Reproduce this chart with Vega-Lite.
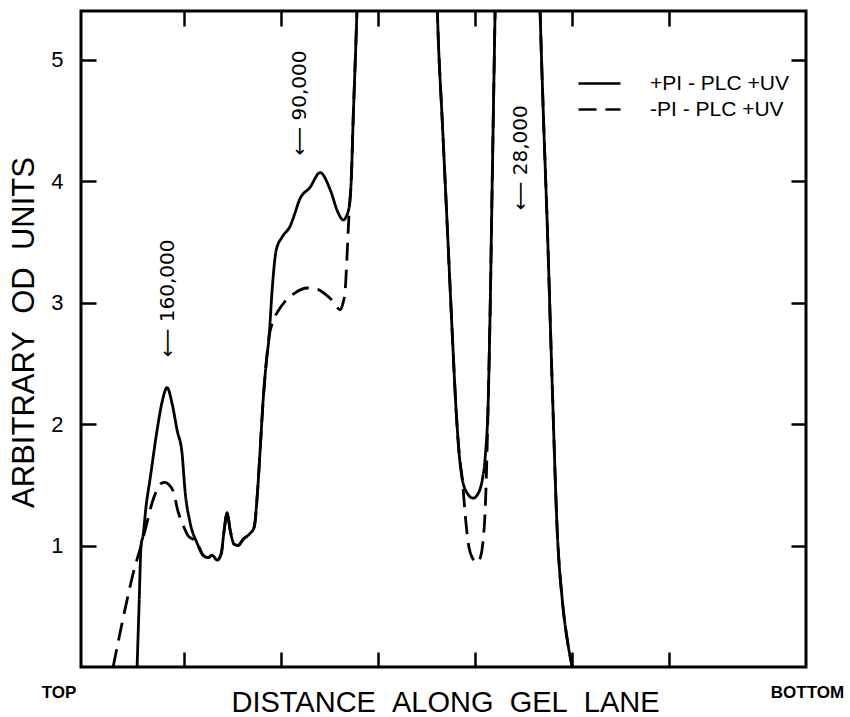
{
  "$schema": "https://vega.github.io/schema/vega-lite/v6.json",
  "width": 725,
  "height": 656,
  "autosize": {"type": "none"},
  "padding": {"left": 81, "top": 11, "right": 44, "bottom": 50},
  "background": "white",
  "config": {
    "view": {"stroke": "black", "strokeWidth": 3},
    "font": "Liberation Sans"
  },
  "datasets": {
    "curves": [
      {"series": "+PI - PLC +UV", "x": 0.518, "y": 0},
      {"series": "+PI - PLC +UV", "x": 0.538, "y": 0.5},
      {"series": "+PI - PLC +UV", "x": 0.559, "y": 1.0},
      {"series": "+PI - PLC +UV", "x": 0.579, "y": 1.08},
      {"series": "+PI - PLC +UV", "x": 0.610, "y": 1.32},
      {"series": "+PI - PLC +UV", "x": 0.652, "y": 1.55},
      {"series": "+PI - PLC +UV", "x": 0.724, "y": 1.95},
      {"series": "+PI - PLC +UV", "x": 0.775, "y": 2.18},
      {"series": "+PI - PLC +UV", "x": 0.827, "y": 2.30},
      {"series": "+PI - PLC +UV", "x": 0.878, "y": 2.17},
      {"series": "+PI - PLC +UV", "x": 0.930, "y": 1.95},
      {"series": "+PI - PLC +UV", "x": 0.981, "y": 1.76},
      {"series": "+PI - PLC +UV", "x": 1.012, "y": 1.45},
      {"series": "+PI - PLC +UV", "x": 1.064, "y": 1.19},
      {"series": "+PI - PLC +UV", "x": 1.136, "y": 1.02},
      {"series": "+PI - PLC +UV", "x": 1.198, "y": 0.92},
      {"series": "+PI - PLC +UV", "x": 1.249, "y": 0.90},
      {"series": "+PI - PLC +UV", "x": 1.291, "y": 0.92},
      {"series": "+PI - PLC +UV", "x": 1.342, "y": 0.88},
      {"series": "+PI - PLC +UV", "x": 1.384, "y": 0.93},
      {"series": "+PI - PLC +UV", "x": 1.414, "y": 1.12},
      {"series": "+PI - PLC +UV", "x": 1.445, "y": 1.27},
      {"series": "+PI - PLC +UV", "x": 1.476, "y": 1.13},
      {"series": "+PI - PLC +UV", "x": 1.518, "y": 1.01},
      {"series": "+PI - PLC +UV", "x": 1.559, "y": 1.00},
      {"series": "+PI - PLC +UV", "x": 1.610, "y": 1.05},
      {"series": "+PI - PLC +UV", "x": 1.682, "y": 1.10},
      {"series": "+PI - PLC +UV", "x": 1.724, "y": 1.15},
      {"series": "+PI - PLC +UV", "x": 1.755, "y": 1.40},
      {"series": "+PI - PLC +UV", "x": 1.786, "y": 1.79},
      {"series": "+PI - PLC +UV", "x": 1.817, "y": 2.20},
      {"series": "+PI - PLC +UV", "x": 1.848, "y": 2.50},
      {"series": "+PI - PLC +UV", "x": 1.878, "y": 2.72},
      {"series": "+PI - PLC +UV", "x": 1.909, "y": 3.10},
      {"series": "+PI - PLC +UV", "x": 1.951, "y": 3.43},
      {"series": "+PI - PLC +UV", "x": 2.013, "y": 3.54},
      {"series": "+PI - PLC +UV", "x": 2.095, "y": 3.63},
      {"series": "+PI - PLC +UV", "x": 2.146, "y": 3.74},
      {"series": "+PI - PLC +UV", "x": 2.188, "y": 3.84},
      {"series": "+PI - PLC +UV", "x": 2.301, "y": 3.95},
      {"series": "+PI - PLC +UV", "x": 2.404, "y": 4.07},
      {"series": "+PI - PLC +UV", "x": 2.507, "y": 3.93},
      {"series": "+PI - PLC +UV", "x": 2.589, "y": 3.74},
      {"series": "+PI - PLC +UV", "x": 2.641, "y": 3.68},
      {"series": "+PI - PLC +UV", "x": 2.693, "y": 3.75},
      {"series": "+PI - PLC +UV", "x": 2.724, "y": 4.00},
      {"series": "+PI - PLC +UV", "x": 2.744, "y": 4.50},
      {"series": "+PI - PLC +UV", "x": 2.775, "y": 5.20},
      {"series": "+PI - PLC +UV", "x": 2.806, "y": 6.00},
      {"series": "+PI - PLC +UV", "x": 2.837, "y": 7.00},
      {"series": "+PI - PLC +UV", "x": 3.559, "y": 7.00},
      {"series": "+PI - PLC +UV", "x": 3.590, "y": 6.00},
      {"series": "+PI - PLC +UV", "x": 3.620, "y": 5.20},
      {"series": "+PI - PLC +UV", "x": 3.662, "y": 4.50},
      {"series": "+PI - PLC +UV", "x": 3.713, "y": 3.64},
      {"series": "+PI - PLC +UV", "x": 3.765, "y": 2.75},
      {"series": "+PI - PLC +UV", "x": 3.806, "y": 2.10},
      {"series": "+PI - PLC +UV", "x": 3.837, "y": 1.75},
      {"series": "+PI - PLC +UV", "x": 3.868, "y": 1.55},
      {"series": "+PI - PLC +UV", "x": 3.920, "y": 1.43},
      {"series": "+PI - PLC +UV", "x": 3.981, "y": 1.39},
      {"series": "+PI - PLC +UV", "x": 4.033, "y": 1.43},
      {"series": "+PI - PLC +UV", "x": 4.074, "y": 1.54},
      {"series": "+PI - PLC +UV", "x": 4.105, "y": 1.73},
      {"series": "+PI - PLC +UV", "x": 4.136, "y": 2.20},
      {"series": "+PI - PLC +UV", "x": 4.157, "y": 3.00},
      {"series": "+PI - PLC +UV", "x": 4.177, "y": 4.00},
      {"series": "+PI - PLC +UV", "x": 4.198, "y": 5.00},
      {"series": "+PI - PLC +UV", "x": 4.219, "y": 6.00},
      {"series": "+PI - PLC +UV", "x": 4.239, "y": 7.00},
      {"series": "+PI - PLC +UV", "x": 4.631, "y": 7.00},
      {"series": "+PI - PLC +UV", "x": 4.651, "y": 6.00},
      {"series": "+PI - PLC +UV", "x": 4.672, "y": 5.35},
      {"series": "+PI - PLC +UV", "x": 4.703, "y": 4.57},
      {"series": "+PI - PLC +UV", "x": 4.744, "y": 3.64},
      {"series": "+PI - PLC +UV", "x": 4.796, "y": 2.30},
      {"series": "+PI - PLC +UV", "x": 4.848, "y": 1.10},
      {"series": "+PI - PLC +UV", "x": 4.899, "y": 0.55},
      {"series": "+PI - PLC +UV", "x": 4.951, "y": 0.22},
      {"series": "+PI - PLC +UV", "x": 5.002, "y": 0.0},

      {"series": "-PI - PLC +UV", "x": 0.271, "y": 0},
      {"series": "-PI - PLC +UV", "x": 0.342, "y": 0.28},
      {"series": "-PI - PLC +UV", "x": 0.414, "y": 0.55},
      {"series": "-PI - PLC +UV", "x": 0.487, "y": 0.80},
      {"series": "-PI - PLC +UV", "x": 0.559, "y": 1.00},
      {"series": "-PI - PLC +UV", "x": 0.621, "y": 1.19},
      {"series": "-PI - PLC +UV", "x": 0.672, "y": 1.35},
      {"series": "-PI - PLC +UV", "x": 0.724, "y": 1.46},
      {"series": "-PI - PLC +UV", "x": 0.765, "y": 1.51},
      {"series": "-PI - PLC +UV", "x": 0.806, "y": 1.52},
      {"series": "-PI - PLC +UV", "x": 0.847, "y": 1.50},
      {"series": "-PI - PLC +UV", "x": 0.888, "y": 1.45},
      {"series": "-PI - PLC +UV", "x": 0.940, "y": 1.28},
      {"series": "-PI - PLC +UV", "x": 0.991, "y": 1.17},
      {"series": "-PI - PLC +UV", "x": 1.043, "y": 1.08},
      {"series": "-PI - PLC +UV", "x": 1.095, "y": 1.05},
      {"series": "-PI - PLC +UV", "x": 1.136, "y": 1.02},
      {"series": "-PI - PLC +UV", "x": 1.198, "y": 0.92},
      {"series": "-PI - PLC +UV", "x": 1.249, "y": 0.90},
      {"series": "-PI - PLC +UV", "x": 1.291, "y": 0.92},
      {"series": "-PI - PLC +UV", "x": 1.342, "y": 0.88},
      {"series": "-PI - PLC +UV", "x": 1.384, "y": 0.93},
      {"series": "-PI - PLC +UV", "x": 1.414, "y": 1.12},
      {"series": "-PI - PLC +UV", "x": 1.445, "y": 1.27},
      {"series": "-PI - PLC +UV", "x": 1.476, "y": 1.13},
      {"series": "-PI - PLC +UV", "x": 1.518, "y": 1.01},
      {"series": "-PI - PLC +UV", "x": 1.559, "y": 1.00},
      {"series": "-PI - PLC +UV", "x": 1.610, "y": 1.05},
      {"series": "-PI - PLC +UV", "x": 1.682, "y": 1.10},
      {"series": "-PI - PLC +UV", "x": 1.724, "y": 1.15},
      {"series": "-PI - PLC +UV", "x": 1.755, "y": 1.40},
      {"series": "-PI - PLC +UV", "x": 1.786, "y": 1.79},
      {"series": "-PI - PLC +UV", "x": 1.817, "y": 2.20},
      {"series": "-PI - PLC +UV", "x": 1.848, "y": 2.50},
      {"series": "-PI - PLC +UV", "x": 1.878, "y": 2.72},
      {"series": "-PI - PLC +UV", "x": 1.920, "y": 2.85},
      {"series": "-PI - PLC +UV", "x": 1.971, "y": 2.93},
      {"series": "-PI - PLC +UV", "x": 2.043, "y": 3.01},
      {"series": "-PI - PLC +UV", "x": 2.146, "y": 3.08},
      {"series": "-PI - PLC +UV", "x": 2.270, "y": 3.12},
      {"series": "-PI - PLC +UV", "x": 2.373, "y": 3.11},
      {"series": "-PI - PLC +UV", "x": 2.456, "y": 3.07},
      {"series": "-PI - PLC +UV", "x": 2.538, "y": 3.01},
      {"series": "-PI - PLC +UV", "x": 2.610, "y": 2.94},
      {"series": "-PI - PLC +UV", "x": 2.641, "y": 3.00},
      {"series": "-PI - PLC +UV", "x": 2.662, "y": 3.10},
      {"series": "-PI - PLC +UV", "x": 2.682, "y": 3.40},
      {"series": "-PI - PLC +UV", "x": 2.703, "y": 3.75},
      {"series": "-PI - PLC +UV", "x": 2.724, "y": 4.00},
      {"series": "-PI - PLC +UV", "x": 2.744, "y": 4.50},
      {"series": "-PI - PLC +UV", "x": 2.775, "y": 5.20},
      {"series": "-PI - PLC +UV", "x": 2.806, "y": 6.00},
      {"series": "-PI - PLC +UV", "x": 2.837, "y": 7.00},
      {"series": "-PI - PLC +UV", "x": 3.559, "y": 7.00},
      {"series": "-PI - PLC +UV", "x": 3.590, "y": 6.00},
      {"series": "-PI - PLC +UV", "x": 3.620, "y": 5.20},
      {"series": "-PI - PLC +UV", "x": 3.662, "y": 4.50},
      {"series": "-PI - PLC +UV", "x": 3.713, "y": 3.64},
      {"series": "-PI - PLC +UV", "x": 3.765, "y": 2.75},
      {"series": "-PI - PLC +UV", "x": 3.806, "y": 2.10},
      {"series": "-PI - PLC +UV", "x": 3.837, "y": 1.75},
      {"series": "-PI - PLC +UV", "x": 3.868, "y": 1.55},
      {"series": "-PI - PLC +UV", "x": 3.899, "y": 1.25},
      {"series": "-PI - PLC +UV", "x": 3.930, "y": 1.02},
      {"series": "-PI - PLC +UV", "x": 3.971, "y": 0.90},
      {"series": "-PI - PLC +UV", "x": 4.023, "y": 0.86},
      {"series": "-PI - PLC +UV", "x": 4.064, "y": 0.93},
      {"series": "-PI - PLC +UV", "x": 4.084, "y": 1.05},
      {"series": "-PI - PLC +UV", "x": 4.105, "y": 1.30},
      {"series": "-PI - PLC +UV", "x": 4.126, "y": 1.85},
      {"series": "-PI - PLC +UV", "x": 4.136, "y": 2.20},
      {"series": "-PI - PLC +UV", "x": 4.157, "y": 3.00},
      {"series": "-PI - PLC +UV", "x": 4.177, "y": 4.00},
      {"series": "-PI - PLC +UV", "x": 4.198, "y": 5.00},
      {"series": "-PI - PLC +UV", "x": 4.219, "y": 6.00},
      {"series": "-PI - PLC +UV", "x": 4.239, "y": 7.00},
      {"series": "-PI - PLC +UV", "x": 4.631, "y": 7.00},
      {"series": "-PI - PLC +UV", "x": 4.651, "y": 6.00},
      {"series": "-PI - PLC +UV", "x": 4.672, "y": 5.35},
      {"series": "-PI - PLC +UV", "x": 4.703, "y": 4.57},
      {"series": "-PI - PLC +UV", "x": 4.744, "y": 3.64},
      {"series": "-PI - PLC +UV", "x": 4.796, "y": 2.30},
      {"series": "-PI - PLC +UV", "x": 4.848, "y": 1.10},
      {"series": "-PI - PLC +UV", "x": 4.899, "y": 0.55},
      {"series": "-PI - PLC +UV", "x": 4.951, "y": 0.22},
      {"series": "-PI - PLC +UV", "x": 5.002, "y": 0.0}
    ],
    "markers": [
      {"label": "⟵ 160,000", "x": 0.837, "y": 2.55},
      {"label": "⟵ 90,000", "x": 2.198, "y": 4.21},
      {"label": "⟵ 28,000", "x": 4.476, "y": 3.76}
    ],
    "ends": [
      {"label": "TOP", "x": -0.287, "y": -0.21},
      {"label": "BOTTOM", "x": 7.425, "y": -0.21}
    ]
  },
  "resolve": {"axis": {"x": "independent", "y": "independent"}},
  "layer": [
    {
      "data": {"name": "curves"},
      "mark": {"type": "line", "interpolate": "monotone", "strokeWidth": 2.8, "color": "black", "clip": true},
      "encoding": {
        "x": {
          "field": "x", "type": "quantitative",
          "scale": {"domain": [-0.06, 7.41], "nice": false, "zero": false},
          "axis": {
            "orient": "bottom", "values": [1, 2, 3, 4, 5, 6], "labels": false, "domain": false, "grid": false,
            "tickSize": -15, "tickWidth": 2.5, "tickColor": "black",
            "title": "DISTANCE\u00a0\u00a0ALONG\u00a0\u00a0GEL\u00a0\u00a0LANE",
            "titleFont": "Liberation Sans", "titleFontSize": 29, "titleFontWeight": "normal", "titleColor": "black",
            "titleX": 364, "titleY": 44, "titleAlign": "center", "titleBaseline": "alphabetic"
          }
        },
        "y": {
          "field": "y", "type": "quantitative",
          "scale": {"domain": [0, 5.4], "nice": false, "zero": false},
          "axis": {
            "orient": "left", "values": [1, 2, 3, 4, 5], "domain": false, "grid": false,
            "tickSize": -15, "tickWidth": 2.5, "tickColor": "black",
            "labelFont": "Liberation Sans", "labelFontSize": 22, "labelColor": "black", "labelPadding": 33,
            "title": "ARBITRARY\u00a0\u00a0OD\u00a0\u00a0UNITS",
            "titleFont": "Liberation Sans", "titleFontSize": 31, "titleFontWeight": "normal", "titleColor": "black",
            "titleX": -48, "titleY": 321, "titleAngle": 270, "titleAlign": "center", "titleBaseline": "alphabetic"
          }
        },
        "strokeDash": {
          "field": "series", "type": "nominal",
          "scale": {"domain": ["+PI - PLC +UV", "-PI - PLC +UV"], "range": [[1, 0], [18, 9]]},
          "legend": {
            "orient": "none", "legendX": 503, "legendY": 57, "title": null, "padding": 0,
            "symbolType": "M-1.5,0H1.5", "symbolSize": 784, "symbolStrokeWidth": 2.6,
            "symbolStrokeColor": "black", "symbolFillColor": "transparent",
            "labelFont": "Liberation Sans", "labelFontSize": 21, "labelColor": "black",
            "labelOffset": 35, "rowPadding": 0
          }
        }
      }
    },
    {
      "data": {"name": "markers"},
      "mark": {"type": "text", "angle": 270, "align": "left", "baseline": "middle", "fontSize": 20, "font": "DejaVu Sans", "color": "black"},
      "encoding": {
        "x": {
          "field": "x", "type": "quantitative",
          "axis": {"orient": "top", "values": [1, 2, 3, 4, 5, 6], "labels": false, "domain": false, "grid": false,
                   "tickSize": -15, "tickWidth": 2.5, "tickColor": "black", "title": null}
        },
        "y": {
          "field": "y", "type": "quantitative",
          "axis": {"orient": "right", "values": [1, 2, 3, 4, 5], "labels": false, "domain": false, "grid": false,
                   "tickSize": -15, "tickWidth": 2.5, "tickColor": "black", "title": null}
        },
        "text": {"field": "label"}
      }
    },
    {
      "data": {"name": "ends"},
      "mark": {"type": "text", "align": "center", "baseline": "middle", "fontSize": 17, "fontWeight": "bold", "font": "Liberation Sans", "color": "black"},
      "encoding": {
        "x": {"field": "x", "type": "quantitative", "axis": null},
        "y": {"field": "y", "type": "quantitative", "axis": null},
        "text": {"field": "label"}
      }
    }
  ]
}
